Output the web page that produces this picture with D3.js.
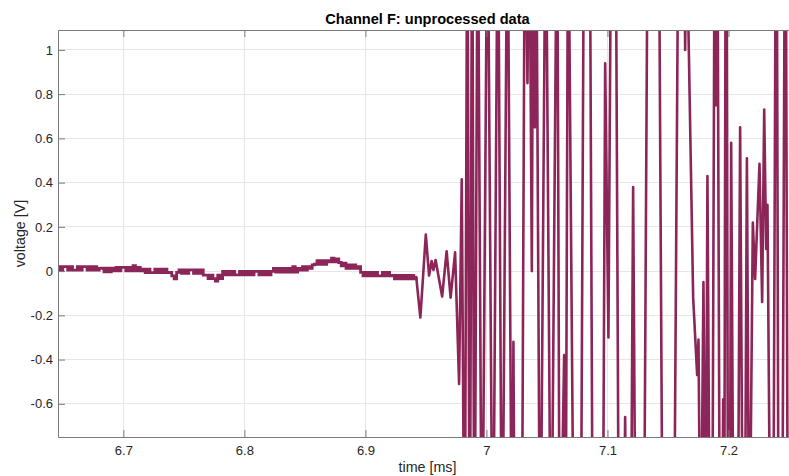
<!DOCTYPE html>
<html>
<head>
<meta charset="utf-8">
<script src="https://cdn.jsdelivr.net/npm/d3@7"></script>
<style>
  body { margin: 0; background: #ffffff; }
  svg { display: block; font-family: "Liberation Sans", Arial, Helvetica, sans-serif; }
</style>
</head>
<body>
<svg id="chart" width="789" height="476"></svg>
<script>
// Axis ticks and labels
const xTicks = [6.7, 6.8, 6.9, 7.0, 7.1, 7.2];
const xTickLabels = ["6.7", "6.8", "6.9", "7", "7.1", "7.2"];
const yTicks = [-0.6, -0.4, -0.2, 0, 0.2, 0.4, 0.6, 0.8, 1];
const yTickLabels = ["-0.6", "-0.4", "-0.2", "0", "0.2", "0.4", "0.6", "0.8", "1"];
const xLimits = [6.646, 7.2566];
const yLimits = [-0.75, 1.09];

// Quiet pre-trigger record: uniformly sampled ADC output (start time, sample interval, volts)
const quietStart = 6.646;
const quietStep = 0.002;
const quietV = [
  0.020, 0.004, 0.020, 0.020, 0.004, 0.020, 0.004, 0.004, 0.020, 0.004, 0.020, 0.020, 0.004, 0.020, 0.004, 0.020, 0.004, 0.012,
  0.013, -0.003, 0.013, -0.003, 0.013,
  0.001, 0.017, 0.001, 0.017, 0.017, 0.001, 0.017, 0.001, 0.025, 0.001, 0.017, 0.001,
  0.009, -0.007, 0.009, -0.007, -0.007, 0.009, -0.007, 0.009, -0.007, 0.009, -0.007,
  -0.006, -0.022, -0.035, -0.006,
  0.006, -0.010, 0.006, -0.010, 0.006, 0.006, -0.010, 0.006, -0.010, 0.006,
  -0.018,
  -0.018, -0.034, -0.018, -0.034, -0.045, -0.018, -0.034,
  -0.001, -0.017, -0.001, -0.017, -0.001, -0.017, -0.017, -0.001, -0.017, -0.001, -0.017, -0.001, -0.017, -0.001, -0.001, -0.017, -0.001, -0.017, -0.001, -0.017, -0.001,
  0.012, -0.004, 0.012, -0.004, 0.012, -0.004, 0.012, -0.004, 0.020, -0.004, 0.012,
  0.004, 0.020, 0.004, 0.020, 0.012, 0.028,
  0.031, 0.047, 0.031, 0.047, 0.031, 0.047, 0.042, 0.058, 0.042, 0.055, 0.039,
  0.024, 0.036, 0.012, 0.028, 0.012, 0.028, 0.012, 0.020,
  -0.006, -0.022, -0.006, -0.022, -0.006, -0.022, -0.006, -0.022, -0.022, -0.006, -0.022, -0.006, -0.022,
  -0.019, -0.035, -0.019, -0.035, -0.019, -0.035, -0.019, -0.035, -0.019, -0.035, -0.027
];

// Burst after the trigger: [time (ms), voltage (V)]; swings far beyond the visible range
const burst = [
  [6.9454, -0.21], [6.9499, 0.165], [6.9526, -0.02], [6.9547, 0.045], [6.9562, 0.005],
  [6.9580, 0.05], [6.9634, -0.115], [6.9671, 0.09], [6.9704, -0.12], [6.9741, 0.085],
  [6.9774, -0.51], [6.9796, 0.415], [6.9820, -1.6], [6.9842, 1.8], [6.9862, -1.6],
  [6.9882, 1.8], [6.9901, -1.6], [6.9928, 1.8], [6.9963, -1.6], [7.0009, 1.8],
  [7.0053, -1.6], [7.0095, 1.8], [7.0129, -1.6], [7.0174, 1.8], [7.0212, -1.6],
  [7.0223, -0.32], [7.0235, -1.6], [7.0291, -1.6], [7.0318, 1.8], [7.0339, 0.85],
  [7.0354, 1.8], [7.0375, 0.0], [7.0387, 1.8], [7.0400, 0.65], [7.0410, 1.8],
  [7.0444, -1.6], [7.0490, 1.8], [7.0534, -1.6], [7.0584, 1.8], [7.0606, -1.6],
  [7.0642, -0.38], [7.0653, -1.6], [7.0675, 1.8], [7.0725, -1.6], [7.0778, -1.6],
  [7.0807, 1.8], [7.0853, 1.8], [7.0880, -1.6], [7.0960, -1.6], [7.0981, 0.94],
  [7.1008, -0.30], [7.1032, 1.8], [7.1067, 1.8], [7.1096, -1.6], [7.1129, -1.6],
  [7.1146, -0.66], [7.1163, -1.6], [7.1191, -1.6], [7.1212, 0.38], [7.1235, -1.6],
  [7.1299, -1.6], [7.1334, 1.8], [7.1423, 1.8], [7.1458, -1.6], [7.1547, -1.6],
  [7.1588, 1.8], [7.1629, 1.8], [7.1642, 1.0], [7.1653, 1.6], [7.1708, -0.12],
  [7.1741, -0.47], [7.1752, -0.31], [7.1770, -1.5], [7.1793, -0.05], [7.1811, -1.5],
  [7.1826, 0.43], [7.1847, -1.5], [7.1865, -1.5], [7.1886, 1.7], [7.1898, 0.75],
  [7.1908, 1.7], [7.1929, -1.5], [7.1946, -1.5], [7.1956, -0.58], [7.1964, -1.5],
  [7.1977, 1.7], [7.1983, 1.7], [7.1997, -1.5], [7.2010, -1.5], [7.2022, 0.58],
  [7.2043, -1.5], [7.2076, -1.5], [7.2096, 0.65], [7.2120, -1.5], [7.2134, -1.5],
  [7.2152, 0.51], [7.2172, -1.5], [7.2201, 0.22], [7.2220, -0.035], [7.2256, 0.485],
  [7.2278, -0.14], [7.2295, 0.73], [7.2311, 0.1], [7.2322, 0.30], [7.2348, -1.5],
  [7.2369, -1.5], [7.2392, 1.8], [7.2398, 1.8], [7.2414, -1.5], [7.2443, -1.5],
  [7.2467, 1.8], [7.2472, 1.8], [7.2491, -1.5], [7.2510, -1.5]
];

const lineColor = "#8c2558";
const axisColor = "#7a7a7a";
const textColor = "#262626";
const gridColor = "#e6e6e6";

const svg = d3.select("#chart");
const plotLeft = 58, plotTop = 30, plotRight = 797, plotBottom = 437;
const W = plotRight - plotLeft, H = plotBottom - plotTop;

const x = d3.scaleLinear().domain(xLimits).range([0, W]);
const y = d3.scaleLinear().domain(yLimits).range([H, 0]);

const g = svg.append("g").attr("transform", `translate(${plotLeft},${plotTop})`);

// Grid
g.append("g").selectAll("line").data(xTicks).join("line")
  .attr("x1", d => x(d)).attr("x2", d => x(d)).attr("y1", 0).attr("y2", H)
  .attr("stroke", gridColor).attr("stroke-width", 1).attr("shape-rendering", "crispEdges");
g.append("g").selectAll("line").data(yTicks).join("line")
  .attr("x1", 0).attr("x2", W).attr("y1", d => y(d)).attr("y2", d => y(d))
  .attr("stroke", gridColor).attr("stroke-width", 1).attr("shape-rendering", "crispEdges");

// Signal
const quiet = quietV.map((v, i) => [quietStart + i * quietStep, v]);
const burstPath = [quiet[quiet.length - 1]].concat(burst);

g.append("clipPath").attr("id", "plotArea")
  .append("rect").attr("x", 0).attr("y", 0).attr("width", W).attr("height", H);

const plotLayer = g.append("g").attr("clip-path", "url(#plotArea)");

// sample-and-hold rendering of the quantized quiet record
plotLayer.append("path")
  .datum(quiet)
  .attr("fill", "none")
  .attr("stroke", lineColor)
  .attr("stroke-width", 2.8)
  .attr("stroke-linejoin", "miter")
  .attr("d", d3.line().curve(d3.curveStepAfter).x(d => x(d[0])).y(d => y(d[1])));

plotLayer.append("path")
  .datum(burstPath)
  .attr("fill", "none")
  .attr("stroke", lineColor)
  .attr("stroke-width", 2.6)
  .attr("stroke-linejoin", "round")
  .attr("stroke-linecap", "round")
  .attr("d", d3.line().x(d => x(d[0])).y(d => y(d[1])));

// Axes (ticks point inward, box on)
const fontSize = 13;
function styleAxis(sel) {
  sel.select(".domain").attr("stroke", axisColor).attr("stroke-width", 1);
  sel.selectAll(".tick line").attr("stroke", axisColor).attr("stroke-width", 1);
  sel.selectAll(".tick text").attr("fill", textColor).attr("font-size", fontSize)
    .attr("font-family", "'Liberation Sans', Arial, Helvetica, sans-serif");
}

const xAxis = d3.axisBottom(x).tickValues(xTicks)
  .tickFormat((d, i) => xTickLabels[i]).tickSizeInner(-7).tickSizeOuter(0).tickPadding(9);
g.append("g").attr("transform", `translate(0,${H})`).call(xAxis).call(styleAxis);

const xTop = d3.axisTop(x).tickValues(xTicks).tickFormat("").tickSizeInner(-7).tickSizeOuter(0);
g.append("g").call(xTop).call(styleAxis);

const yAxis = d3.axisLeft(y).tickValues(yTicks)
  .tickFormat((d, i) => yTickLabels[i]).tickSizeInner(-7).tickSizeOuter(0).tickPadding(5);
g.append("g").call(yAxis).call(styleAxis);

const yRight = d3.axisRight(y).tickValues(yTicks).tickFormat("").tickSizeInner(-7).tickSizeOuter(0);
g.append("g").attr("transform", `translate(${W},0)`).call(yRight).call(styleAxis);

// Labels
svg.append("text")
  .attr("x", plotLeft + W / 2).attr("y", 24)
  .attr("text-anchor", "middle")
  .attr("font-size", 14.6).attr("font-weight", "bold").attr("fill", "#000")
  .text("Channel F: unprocessed data");

svg.append("text")
  .attr("x", plotLeft + W / 2).attr("y", 472)
  .attr("text-anchor", "middle")
  .attr("font-size", 14.3).attr("fill", textColor)
  .text("time [ms]");

svg.append("text")
  .attr("transform", `translate(25,${plotTop + H / 2}) rotate(-90)`)
  .attr("text-anchor", "middle")
  .attr("font-size", 14.3).attr("fill", textColor)
  .text("voltage [V]");
</script>
</body>
</html>
